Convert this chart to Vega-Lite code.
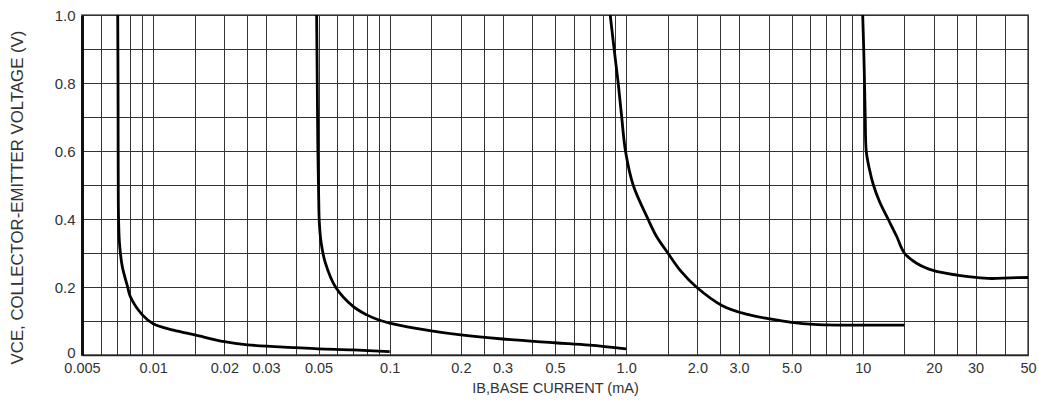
{
  "$schema": "https://vega.github.io/schema/vega-lite/v6.json",
  "width": 946,
  "height": 340,
  "autosize": {"type": "none"},
  "padding": {"left": 82, "top": 15, "right": 11, "bottom": 64},
  "background": "white",
  "config": {
    "view": {"stroke": "#555", "strokeWidth": 1.5},
    "font": "Liberation Sans, Arial, sans-serif"
  },
  "data": {
    "values": [
      {"s": "c1", "i": 0, "x": 0.00708, "y": 1.0},
      {"s": "c1", "i": 1, "x": 0.0071, "y": 0.8},
      {"s": "c1", "i": 2, "x": 0.00711, "y": 0.6},
      {"s": "c1", "i": 3, "x": 0.00712, "y": 0.45},
      {"s": "c1", "i": 4, "x": 0.00715, "y": 0.38},
      {"s": "c1", "i": 5, "x": 0.0072, "y": 0.33},
      {"s": "c1", "i": 6, "x": 0.0074, "y": 0.26},
      {"s": "c1", "i": 7, "x": 0.0078, "y": 0.2},
      {"s": "c1", "i": 8, "x": 0.008, "y": 0.172},
      {"s": "c1", "i": 9, "x": 0.009, "y": 0.118},
      {"s": "c1", "i": 10, "x": 0.01, "y": 0.092},
      {"s": "c1", "i": 11, "x": 0.0122, "y": 0.073},
      {"s": "c1", "i": 12, "x": 0.015, "y": 0.059},
      {"s": "c1", "i": 13, "x": 0.02, "y": 0.039},
      {"s": "c1", "i": 14, "x": 0.025, "y": 0.03},
      {"s": "c1", "i": 15, "x": 0.04, "y": 0.0215},
      {"s": "c1", "i": 16, "x": 0.05, "y": 0.018},
      {"s": "c1", "i": 17, "x": 0.07, "y": 0.015},
      {"s": "c1", "i": 18, "x": 0.1, "y": 0.01},
      {"s": "c2", "i": 0, "x": 0.0491, "y": 1.0},
      {"s": "c2", "i": 1, "x": 0.0494, "y": 0.8},
      {"s": "c2", "i": 2, "x": 0.0497, "y": 0.6},
      {"s": "c2", "i": 3, "x": 0.0501, "y": 0.46},
      {"s": "c2", "i": 4, "x": 0.0504, "y": 0.39},
      {"s": "c2", "i": 5, "x": 0.0513, "y": 0.33},
      {"s": "c2", "i": 6, "x": 0.0535, "y": 0.27},
      {"s": "c2", "i": 7, "x": 0.059, "y": 0.2},
      {"s": "c2", "i": 8, "x": 0.07, "y": 0.143},
      {"s": "c2", "i": 9, "x": 0.08, "y": 0.118},
      {"s": "c2", "i": 10, "x": 0.09, "y": 0.103},
      {"s": "c2", "i": 11, "x": 0.1, "y": 0.094},
      {"s": "c2", "i": 12, "x": 0.15, "y": 0.071},
      {"s": "c2", "i": 13, "x": 0.2, "y": 0.059},
      {"s": "c2", "i": 14, "x": 0.3, "y": 0.047},
      {"s": "c2", "i": 15, "x": 0.5, "y": 0.036},
      {"s": "c2", "i": 16, "x": 0.7, "y": 0.029},
      {"s": "c2", "i": 17, "x": 1.0, "y": 0.018},
      {"s": "c3", "i": 0, "x": 0.856, "y": 1.0},
      {"s": "c3", "i": 1, "x": 0.889, "y": 0.9},
      {"s": "c3", "i": 2, "x": 0.925, "y": 0.8},
      {"s": "c3", "i": 3, "x": 0.957, "y": 0.7},
      {"s": "c3", "i": 4, "x": 0.993, "y": 0.6},
      {"s": "c3", "i": 5, "x": 1.07, "y": 0.5},
      {"s": "c3", "i": 6, "x": 1.236, "y": 0.4},
      {"s": "c3", "i": 7, "x": 1.34, "y": 0.35},
      {"s": "c3", "i": 8, "x": 1.5, "y": 0.3},
      {"s": "c3", "i": 9, "x": 1.71, "y": 0.245},
      {"s": "c3", "i": 10, "x": 1.98, "y": 0.2},
      {"s": "c3", "i": 11, "x": 2.55, "y": 0.145},
      {"s": "c3", "i": 12, "x": 3.22, "y": 0.12},
      {"s": "c3", "i": 13, "x": 4.05, "y": 0.106},
      {"s": "c3", "i": 14, "x": 5.0, "y": 0.096},
      {"s": "c3", "i": 15, "x": 6.2, "y": 0.09},
      {"s": "c3", "i": 16, "x": 8.0, "y": 0.088},
      {"s": "c3", "i": 17, "x": 10.0, "y": 0.088},
      {"s": "c3", "i": 18, "x": 15.0, "y": 0.088},
      {"s": "c4", "i": 0, "x": 10.0, "y": 1.0},
      {"s": "c4", "i": 1, "x": 10.1, "y": 0.9},
      {"s": "c4", "i": 2, "x": 10.18, "y": 0.8},
      {"s": "c4", "i": 3, "x": 10.25, "y": 0.7},
      {"s": "c4", "i": 4, "x": 10.35, "y": 0.6},
      {"s": "c4", "i": 5, "x": 10.65, "y": 0.55},
      {"s": "c4", "i": 6, "x": 11.1, "y": 0.5},
      {"s": "c4", "i": 7, "x": 11.8, "y": 0.45},
      {"s": "c4", "i": 8, "x": 12.8, "y": 0.4},
      {"s": "c4", "i": 9, "x": 13.9, "y": 0.35},
      {"s": "c4", "i": 10, "x": 15.0, "y": 0.3},
      {"s": "c4", "i": 11, "x": 16.9, "y": 0.27},
      {"s": "c4", "i": 12, "x": 20.0, "y": 0.248},
      {"s": "c4", "i": 13, "x": 25.0, "y": 0.235},
      {"s": "c4", "i": 14, "x": 30.0, "y": 0.228},
      {"s": "c4", "i": 15, "x": 35.0, "y": 0.225},
      {"s": "c4", "i": 16, "x": 42.0, "y": 0.227},
      {"s": "c4", "i": 17, "x": 50.0, "y": 0.228}
    ]
  },
  "mark": {"type": "line", "color": "black", "strokeWidth": 2.8, "interpolate": "catmull-rom", "clip": true},
  "encoding": {
    "x": {
      "field": "x",
      "type": "quantitative",
      "scale": {"type": "log", "domain": [0.005, 50], "nice": false},
      "axis": {
        "values": [0.005, 0.006, 0.007, 0.008, 0.009, 0.01, 0.015, 0.02, 0.025, 0.03, 0.04, 0.05, 0.06, 0.07, 0.08, 0.09, 0.1, 0.15, 0.2, 0.25, 0.3, 0.4, 0.5, 0.6, 0.7, 0.8, 0.9, 1, 1.5, 2, 2.5, 3, 4, 5, 6, 7, 8, 9, 10, 15, 20, 25, 30, 40, 50],
        "labelExpr": "indexof([0.005, 0.01, 0.02, 0.03, 0.05, 0.1, 0.2, 0.3, 0.5, 1, 2, 3, 5, 10, 20, 30, 50], datum.value) < 0 ? '' : (datum.value >= 1 && datum.value < 10 ? format(datum.value, '.1f') : '' + datum.value)",
        "labelOverlap": false,
        "labelFlush": false,
        "labelFontSize": 14.5,
        "labelColor": "#333",
        "labelPadding": 6,
        "ticks": false,
        "grid": true,
        "gridColor": "#333",
        "gridWidth": 1,
        "gridOpacity": 1,
        "domainColor": "#222",
        "domainWidth": 1.5,
        "title": "IB,BASE CURRENT (mA)",
        "titleFontSize": 14.5,
        "titleFontWeight": "normal",
        "titleColor": "#333",
        "titlePadding": 7
      }
    },
    "y": {
      "field": "y",
      "type": "quantitative",
      "scale": {"domain": [0, 1], "nice": false},
      "axis": {
        "values": [0, 0.1, 0.2, 0.3, 0.4, 0.5, 0.6, 0.7, 0.8, 0.9, 1.0],
        "labelExpr": "datum.value == 0 ? '0' : (round(datum.value * 10) % 2 == 0 ? format(datum.value, '.1f') : '')",
        "labelOverlap": false,
        "labelFlush": false,
        "labelFontSize": 15,
        "labelColor": "#333",
        "labelPadding": 7,
        "labelOffset": {"condition": {"test": "datum.value == 0", "value": -3}, "value": 0},
        "ticks": false,
        "grid": true,
        "gridColor": "#333",
        "gridWidth": 1,
        "gridOpacity": 1,
        "domainColor": "#111",
        "domainWidth": 3,
        "title": "VCE, COLLECTOR-EMITTER VOLTAGE (V)",
        "titleFontSize": 16.8,
        "titleFontWeight": "normal",
        "titleColor": "#333",
        "titlePadding": 28,
        "titleY": 182
      }
    },
    "detail": {"field": "s"},
    "order": {"field": "i", "type": "quantitative"}
  }
}
